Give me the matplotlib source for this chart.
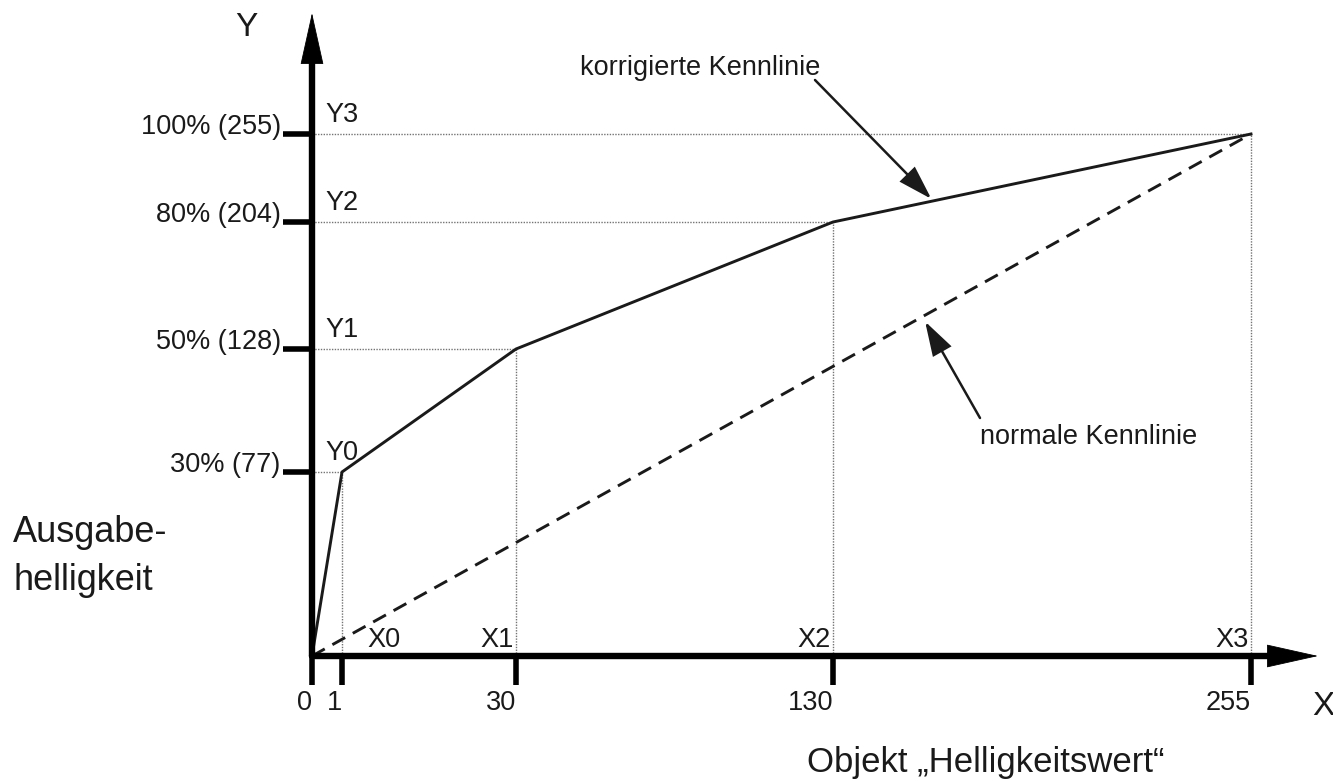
import numpy as np
import matplotlib
matplotlib.use("Agg")
import matplotlib.pyplot as plt

plt.rcParams['font.family'] = ['Liberation Sans', 'DejaVu Sans']

# ================================================================
# DATEN : Stützpunkte der Kennlinien (Eingang X -> Ausgang Y)
# ================================================================
X_VALS = [0, 1, 30, 130, 255]
Y_VALS = [0, 77, 128, 204, 255]
NORMAL_X = [0, 255]
NORMAL_Y = [0, 255]

X_TICK_LABELS = ["0", "1", "30", "130", "255"]
Y_TICK_VALS = [77, 128, 204, 255]
Y_TICK_LABELS = ["30% (77)", "50% (128)", "80% (204)", "100% (255)"]
X_POINT_NAMES = ["X0", "X1", "X2", "X3"]
Y_POINT_NAMES = ["Y0", "Y1", "Y2", "Y3"]

# ================================================================
# LAYOUT : schematische (nicht lineare) Achsenteilung in Pixeln
# ================================================================
W, H = 1333, 781
X_PIX = [312, 342, 516, 833, 1251]
Y_PIX = [125, 309, 432, 559, 647]

INK = "#1a1a1a"
GUIDE = "0.45"
FS = 19.5


def piecewise(src, dst):
    """Stückweise lineare Abbildung, an den Enden linear fortgesetzt."""
    src = np.asarray(src, float)
    dst = np.asarray(dst, float)
    s0 = (dst[1] - dst[0]) / (src[1] - src[0])
    s1 = (dst[-1] - dst[-2]) / (src[-1] - src[-2])

    def f(v):
        v = np.asarray(v, float)
        out = np.interp(v, src, dst)
        out = np.where(v < src[0], dst[0] + (v - src[0]) * s0, out)
        out = np.where(v > src[-1], dst[-1] + (v - src[-1]) * s1, out)
        return out
    return f


fwd_x, inv_x = piecewise(X_VALS, X_PIX), piecewise(X_PIX, X_VALS)
fwd_y, inv_y = piecewise(Y_VALS, Y_PIX), piecewise(Y_PIX, Y_VALS)

fig = plt.figure(figsize=(W / 100, H / 100), dpi=100)
ax = fig.add_axes([0, 0, 1, 1])
ax.set_xscale('function', functions=(fwd_x, inv_x))
ax.set_yscale('function', functions=(fwd_y, inv_y))
ax.set_xlim(float(inv_x(0)), float(inv_x(W)))
ax.set_ylim(float(inv_y(0)), float(inv_y(H)))

for s in ax.spines.values():
    s.set_visible(False)
ax.spines['left'].set_position(('data', 0))
ax.spines['bottom'].set_position(('data', 0))

# --- Ticks ---
ax.set_xticks(X_VALS, labels=X_TICK_LABELS)
ax.set_yticks(Y_TICK_VALS, labels=Y_TICK_LABELS)
ax.tick_params(axis='both', direction='out', length=21, width=4, color='black',
               labelsize=FS, labelcolor=INK)
ax.tick_params(axis='x', pad=3.5)
ax.tick_params(axis='y', pad=1.5)
for lbl in ax.get_xticklabels():
    lbl.set_ha('right')
for lbl in ax.get_yticklabels():
    lbl.set_va('baseline')

# --- Hilfslinien (gepunktet) ---
for xv, yv in zip(X_VALS[1:], Y_VALS[1:]):
    ax.plot([0, xv], [yv, yv], ls=(0, (1, 1)), lw=1, color=GUIDE, zorder=1)
    ax.plot([xv, xv], [0, yv], ls=(0, (1, 1)), lw=1, color=GUIDE, zorder=1)

# --- Kennlinien ---
ax.plot(X_VALS, Y_VALS, color=INK, lw=2.1, zorder=2)
ax.plot(NORMAL_X, NORMAL_Y, color=INK, lw=2.1, dashes=(5, 3), zorder=2)

# --- Achsen mit Pfeilspitzen (Schaft dick, Spitze separat gefüllt) ---
HEAD_LEN = 35
shaft = dict(arrowstyle='-', lw=4.6, color='black', shrinkA=0, shrinkB=HEAD_LEN - 2)
head = dict(arrowstyle=f'-|>,head_length={HEAD_LEN},head_width=7.8', lw=0.6,
            color='black', shrinkA=0, shrinkB=0, mutation_scale=1)
for tip, coords in [((1318 / W, 0), ('axes fraction', 'data')),
                    ((0, 1 - 13 / H), ('data', 'axes fraction'))]:
    for props in (shaft, head):
        ax.annotate('', xy=tip, xycoords=coords, xytext=(0, 0), textcoords='data',
                    arrowprops=props, zorder=3)

# --- Punktbezeichnungen ---
for name, yv in zip(Y_POINT_NAMES, Y_VALS[1:]):
    ax.annotate(name, xy=(0, yv), xytext=(10, 8.5), textcoords='offset points',
                ha='left', va='baseline', fontsize=FS, color=INK)
for i, (name, xv) in enumerate(zip(X_POINT_NAMES, X_VALS[1:])):
    if i == 0:
        ax.annotate(name, xy=(xv, 0), xytext=(18, 6.5), textcoords='offset points',
                    ha='left', va='baseline', fontsize=FS, color=INK)
    else:
        ax.annotate(name, xy=(xv, 0), xytext=(-1.5, 6.5), textcoords='offset points',
                    ha='right', va='baseline', fontsize=FS, color=INK)

# --- Beschriftungen mit Pfeilen ---
label_arrow = dict(arrowstyle='-|>,head_length=21,head_width=6.5', lw=1.8,
                   color=INK, shrinkA=0, shrinkB=0, mutation_scale=1,
                   joinstyle='miter')

ax.text(700 / W, 1 - 75 / H, "korrigierte Kennlinie", transform=ax.transAxes,
        ha='center', va='baseline', fontsize=FS, color=INK)
corr_x = 160
ax.annotate('', xy=(corr_x, np.interp(corr_x, X_VALS, Y_VALS)), xycoords='data',
            xytext=(815 / W, 1 - 80 / H), textcoords='axes fraction',
            arrowprops=dict(label_arrow, shrinkB=2))

ax.text(980 / W, 1 - 444 / H, "normale Kennlinie", transform=ax.transAxes,
        ha='left', va='baseline', fontsize=FS, color=INK)
p0 = ax.transData.transform((NORMAL_X[0], NORMAL_Y[0]))
p1 = ax.transData.transform((NORMAL_X[1], NORMAL_Y[1]))
tip = ax.transData.inverted().transform(p0 + 0.65 * (p1 - p0))
ax.annotate('', xy=tuple(tip), xycoords='data',
            xytext=(980 / W, 1 - 418 / H), textcoords='axes fraction',
            arrowprops=dict(label_arrow, shrinkB=4))

# --- Achsentitel ---
ax.text(235 / W, 1 - 12 / H, "Y", transform=ax.transAxes, ha='left', va='top',
        fontsize=24, color=INK)
ax.text(1312 / W, 1 - 715 / H, "X", transform=ax.transAxes, ha='left', va='baseline',
        fontsize=24, color=INK)
ax.text(13 / W, 1 - 515 / H, "Ausgabe-\nhelligkeit", transform=ax.transAxes,
        ha='left', va='top', fontsize=26, color=INK, linespacing=1.5)
ax.text(807 / W, 1 - 772 / H, "Objekt \u201eHelligkeitswert\u201c", transform=ax.transAxes,
        ha='left', va='baseline', fontsize=25, color=INK)

fig.savefig("out.png", dpi=100, facecolor="white")
